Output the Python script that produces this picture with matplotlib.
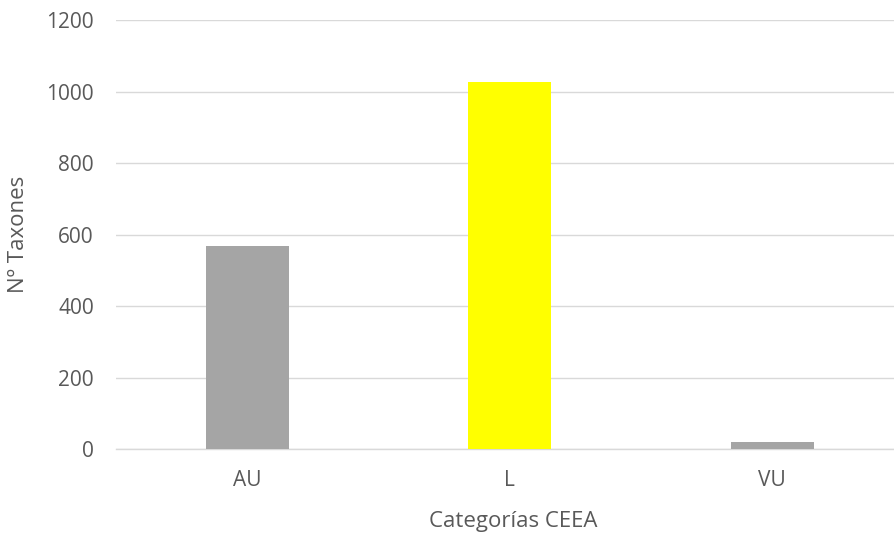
import matplotlib
matplotlib.use("Agg")
import matplotlib.pyplot as plt

# datos
categorias = ['AU', 'L', 'VU']
n_taxones = [568, 1027, 20]
colores = ['#A5A5A5', '#FFFF00', '#A5A5A5']
y_ticks = [0, 200, 400, 600, 800, 1000, 1200]

plt.rcParams['font.family'] = ['Open Sans', 'DejaVu Sans']
texto = '#595959'

fig = plt.figure(figsize=(8.94, 5.33), dpi=100)
ax = fig.add_axes([116 / 894, 1 - 449.3 / 533, 778 / 894, (449.3 - 20) / 533])

x = range(len(categorias))
ax.bar(x, n_taxones, width=0.316, color=colores, zorder=3)

ax.set_ylim(0, 1200)
ax.set_xlim(-0.5, 2.464)
ax.set_yticks(y_ticks)
ax.set_xticks(list(x))
ax.set_xticklabels(categorias)
ax.yaxis.grid(True, color='#D9D9D9', linewidth=1.0, zorder=0)
ax.set_axisbelow(True)

for s in ['top', 'right', 'left']:
    ax.spines[s].set_visible(False)
ax.spines['bottom'].set_color('#D9D9D9')
ax.spines['bottom'].set_linewidth(1.0)

ax.tick_params(axis='both', length=0, labelsize=15, labelcolor=texto)
ax.tick_params(axis='y', pad=16)
ax.tick_params(axis='x', pad=15)

ax.set_ylabel('Nº Taxones', fontsize=16, color=texto)
ax.yaxis.set_label_coords(-(116 - 19) / 778, 0.5)
ax.set_xlabel('Categorías CEEA', fontsize=16, color=texto)
ax.xaxis.set_label_coords((513 - 116) / 778, -(521 - 449.3) / 429.3)
ax.xaxis.label.set_va('center')
ax.yaxis.label.set_va('center')

fig.savefig('out.png', dpi=100)
